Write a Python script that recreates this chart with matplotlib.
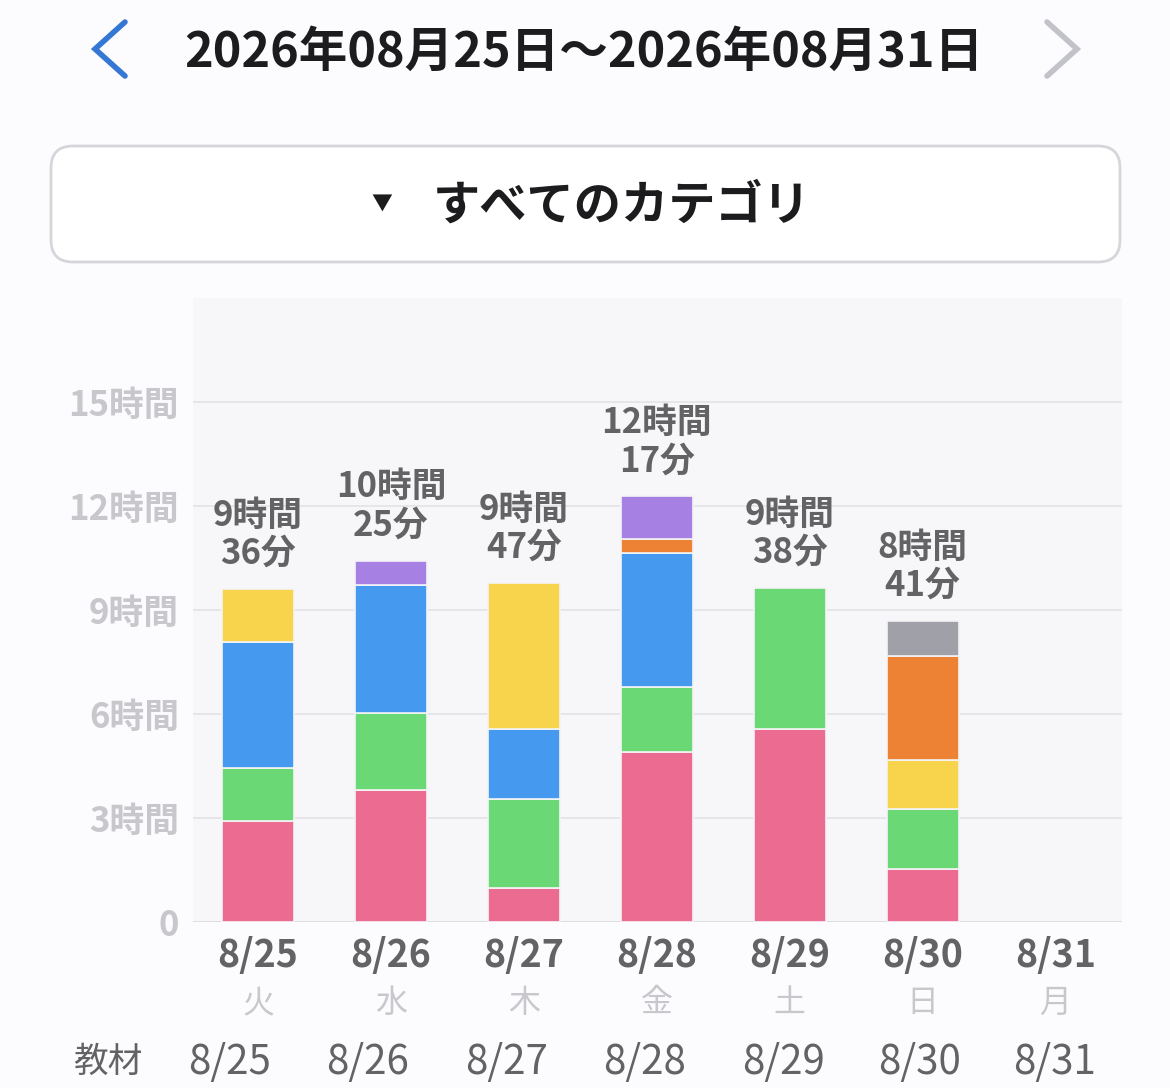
import matplotlib
matplotlib.use("Agg")
import matplotlib.pyplot as plt
from matplotlib.patches import FancyBboxPatch
from matplotlib.lines import Line2D
import numpy as np

plt.rcParams['font.family'] = ['Noto Sans CJK JP', 'DejaVu Sans']

# data (hours), stacked bottom -> top
dates = ['8/25', '8/26', '8/27', '8/28', '8/29', '8/30', '8/31']
weekdays = ['火', '水', '木', '金', '土', '日', '月']
total_minutes = [576, 625, 587, 737, 578, 521, 0]

pink = [2.92, 3.82, 0.98, 4.91, 5.58, 1.53, 0]
green = [1.53, 2.22, 2.57, 1.88, 4.05, 1.74, 0]
blue = [3.64, 3.67, 2.03, 3.85, 0, 0, 0]
yellow = [1.51, 0, 4.20, 0, 0, 1.41, 0]
orange = [0, 0, 0, 0.40, 0, 2.98, 0]
purple = [0, 0.71, 0, 1.24, 0, 0, 0]
gray = [0, 0, 0, 0, 0, 1.02, 0]

yticks = [0, 3, 6, 9, 12, 15]
ytick_labels = ['0', '3時間', '6時間', '9時間', '12時間', '15時間']

series = [pink, green, blue, yellow, orange, purple, gray]
colors = ['#ec6b91', '#6ad874', '#4599ef', '#f7d44b', '#ee8234', '#a680e2', '#9fa0a8']

W, H = 1170, 1088
fig = plt.figure(figsize=(W / 100, H / 100), dpi=100)
fig.patch.set_facecolor('#fcfcfe')

# title row
fig.text(584 / W, 1 - 52 / H, '2026年08月25日〜2026年08月31日', ha='center', va='center',
         fontsize=35, fontweight='bold', color='#1c1c1e')
fig.add_artist(Line2D([125 / W, 95 / W, 125 / W], [1 - 22 / H, 1 - 49 / H, 1 - 76 / H],
                      transform=fig.transFigure, color='#3478d4', lw=4, solid_capstyle='round',
                      solid_joinstyle='miter'))
fig.add_artist(Line2D([1047 / W, 1077 / W, 1047 / W], [1 - 22 / H, 1 - 49 / H, 1 - 76 / H],
                      transform=fig.transFigure, color='#c2c3c8', lw=4, solid_capstyle='round',
                      solid_joinstyle='miter'))

# dropdown box (pixel coords)
box = FancyBboxPatch((51, H - 262), 1069, 116, boxstyle='round,pad=0,rounding_size=22',
                     transform=None, facecolor='white', edgecolor='#d6d6da', lw=2)
fig.add_artist(box)
fig.text(382 / W, 1 - 204 / H, '▼', ha='center', va='center', fontsize=15, color='#1c1c1e')
fig.text(622 / W, 1 - 206 / H, 'すべてのカテゴリ', ha='center', va='center',
         fontsize=34, fontweight='bold', color='#1c1c1e')

# chart
ax = fig.add_axes([193 / W, 1 - 922 / H, (1122 - 193) / W, (922 - 298) / H])
ax.set_facecolor('#f7f7f9')
for s in ax.spines.values():
    s.set_visible(False)

x = np.arange(len(dates))
bottom = np.zeros(len(dates))
for vals, c in zip(series, colors):
    vals = np.array(vals)
    lw = np.where(vals > 0, 1.2, 0)
    ax.bar(x, vals, 0.54, bottom=bottom, color=c, edgecolor='#f4f4f6', linewidth=lw, zorder=3)
    bottom += vals

for yt in yticks:
    ax.axhline(yt, color='#e3e3e7' if yt else '#d9d9de', lw=1.2, zorder=1)

for i, m in enumerate(total_minutes):
    if m == 0:
        continue
    ax.annotate(f'{m // 60}時間\n{m % 60}分', (x[i], bottom[i]), xytext=(0, 13),
                textcoords='offset points', ha='center', va='bottom', fontsize=25,
                fontweight='bold', color='#636366', linespacing=1.12)

ax.set_xlim(-0.49, 6.5)
ax.set_ylim(0, 18)
ax.set_yticks(yticks)
ax.set_yticklabels(ytick_labels, fontsize=25, fontweight='bold', color='#c7c7cc')
ax.set_xticks(x)
ax.set_xticklabels(dates, fontsize=27, fontweight='bold', color='#636366')
ax.tick_params(length=0, axis='y', pad=10)
ax.tick_params(length=0, axis='x', pad=10)

for i, wd in enumerate(weekdays):
    ax.text(x[i], -(1003 - 922) / (922 - 298), wd, transform=ax.get_xaxis_transform(),
            ha='center', va='center', fontsize=23, color='#c7c7cc')

# bottom table row
bottom_x = [230, 368, 507, 645, 783, 920, 1055]
fig.text(108 / W, 1 - 1062 / H, '教材', ha='center', va='center', fontsize=25, color='#636366')
for bx, d in zip(bottom_x, dates):
    fig.text(bx / W, 1 - 1062 / H, d, ha='center', va='center', fontsize=29, color='#636366')

fig.savefig('out.png', dpi=100, facecolor=fig.get_facecolor())
